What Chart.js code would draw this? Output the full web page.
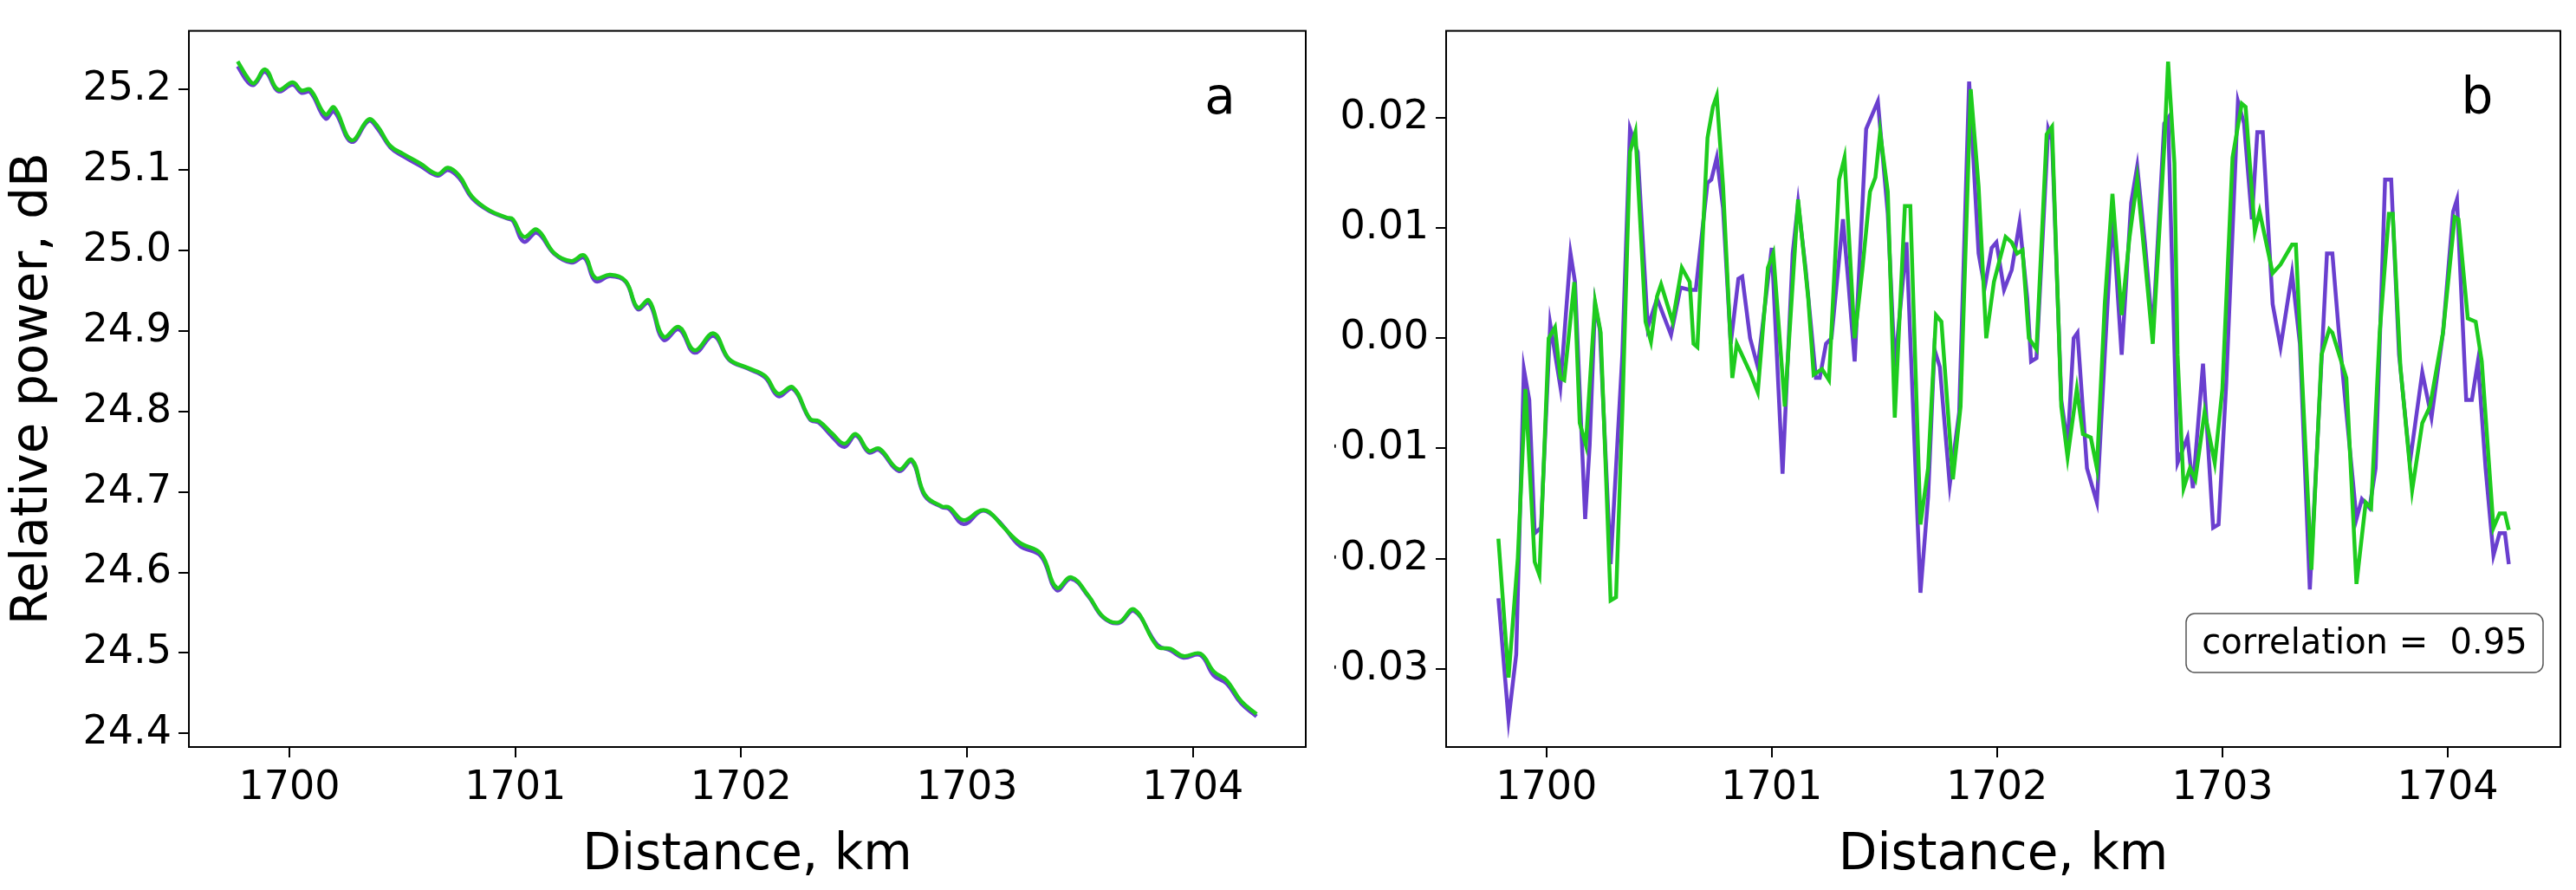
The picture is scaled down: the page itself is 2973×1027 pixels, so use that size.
<!DOCTYPE html>
<html>
<head>
<meta charset="utf-8">
<script src="https://cdn.jsdelivr.net/npm/chart.js@4.4.1/dist/chart.umd.min.js"></script>
<style>
  body { margin: 0; background: #fff; width: 2973px; height: 1027px; overflow: hidden; }
  .panel { position: absolute; top: 0; height: 1027px; }
  #panelA { left: 0; width: 1540px; }
  #panelB { left: 1540px; width: 1433px; }
</style>
</head>
<body>
<div class="panel" id="panelA"><canvas id="chartA"></canvas></div>
<div class="panel" id="panelB"><canvas id="chartB"></canvas></div>
<script>
// panel a: relative power, dB
const aDist = [1699.771, 1699.817, 1699.844, 1699.893, 1699.950, 1700.015, 1700.053, 1700.092, 1700.160, 1700.198,
  1700.275, 1700.351, 1700.389, 1700.447, 1700.504, 1700.580, 1700.656, 1700.702, 1700.752, 1700.809,
  1700.885, 1700.962, 1700.989, 1701.038, 1701.096, 1701.172, 1701.248, 1701.305, 1701.355, 1701.420,
  1701.489, 1701.542, 1701.592, 1701.656, 1701.725, 1701.794, 1701.878, 1701.947, 1702.031, 1702.107,
  1702.164, 1702.229, 1702.305, 1702.344, 1702.405, 1702.458, 1702.508, 1702.565, 1702.611, 1702.698,
  1702.756, 1702.813, 1702.889, 1702.920, 1702.985, 1703.061, 1703.099, 1703.156, 1703.233, 1703.328,
  1703.397, 1703.462, 1703.538, 1703.603, 1703.672, 1703.740, 1703.843, 1703.901, 1703.958, 1704.034,
  1704.092, 1704.149, 1704.214, 1704.282];
const aGreen = [25.235, 25.214, 25.208, 25.225, 25.200, 25.209, 25.199, 25.200, 25.169, 25.178,
  25.137, 25.163, 25.155, 25.130, 25.120, 25.108, 25.095, 25.103, 25.093, 25.067,
  25.050, 25.041, 25.039, 25.017, 25.026, 24.997, 24.987, 24.994, 24.966, 24.970,
  24.962, 24.929, 24.938, 24.893, 24.905, 24.876, 24.897, 24.865, 24.854, 24.844,
  24.822, 24.830, 24.791, 24.788, 24.772, 24.760, 24.772, 24.751, 24.754, 24.728,
  24.740, 24.697, 24.682, 24.681, 24.665, 24.677, 24.675, 24.658, 24.637, 24.623,
  24.581, 24.594, 24.571, 24.545, 24.538, 24.554, 24.508, 24.505, 24.496, 24.499,
  24.477, 24.466, 24.440, 24.424];
const aPurple = [25.229, 25.209, 25.206, 25.222, 25.198, 25.206, 25.196, 25.197, 25.164, 25.173,
  25.135, 25.161, 25.152, 25.128, 25.117, 25.105, 25.093, 25.100, 25.090, 25.065,
  25.049, 25.040, 25.037, 25.011, 25.022, 24.996, 24.985, 24.991, 24.962, 24.968,
  24.961, 24.927, 24.935, 24.889, 24.902, 24.873, 24.894, 24.864, 24.853, 24.842,
  24.819, 24.828, 24.790, 24.786, 24.768, 24.756, 24.770, 24.749, 24.752, 24.726,
  24.738, 24.695, 24.681, 24.679, 24.660, 24.676, 24.674, 24.659, 24.633, 24.620,
  24.578, 24.592, 24.570, 24.544, 24.537, 24.552, 24.510, 24.503, 24.494, 24.497,
  24.472, 24.462, 24.437, 24.421];

// panel b: residuals
const bPurpleDist = [1699.787, 1699.832, 1699.866, 1699.900, 1699.924, 1699.948, 1699.976, 1700.017, 1700.062, 1700.107,
  1700.127, 1700.172, 1700.192, 1700.216, 1700.237, 1700.285, 1700.337, 1700.371, 1700.405, 1700.450,
  1700.491, 1700.553, 1700.595, 1700.636, 1700.663, 1700.715, 1700.732, 1700.756, 1700.784, 1700.818,
  1700.852, 1700.869, 1700.904, 1700.938, 1701.000, 1701.048, 1701.093, 1701.117, 1701.151, 1701.196,
  1701.213, 1701.241, 1701.265, 1701.316, 1701.340, 1701.368, 1701.419, 1701.471, 1701.515, 1701.546,
  1701.598, 1701.660, 1701.694, 1701.722, 1701.746, 1701.790, 1701.832, 1701.876, 1701.918, 1701.945,
  1701.976, 1701.997, 1702.031, 1702.065, 1702.100, 1702.134, 1702.151, 1702.175, 1702.227, 1702.244,
  1702.285, 1702.313, 1702.340, 1702.357, 1702.399, 1702.443, 1702.478, 1702.512, 1702.553, 1702.595,
  1702.622, 1702.656, 1702.691, 1702.742, 1702.759, 1702.801, 1702.845, 1702.869, 1702.914, 1702.959,
  1702.983, 1703.017, 1703.069, 1703.096, 1703.131, 1703.155, 1703.179, 1703.223, 1703.258, 1703.309,
  1703.344, 1703.388, 1703.412, 1703.464, 1703.488, 1703.515, 1703.550, 1703.595, 1703.619, 1703.653,
  1703.680, 1703.722, 1703.749, 1703.784, 1703.832, 1703.887, 1703.928, 1703.979, 1704.024, 1704.041,
  1704.082, 1704.107, 1704.134, 1704.168, 1704.203, 1704.230, 1704.254, 1704.271];
const bPurple = [-0.0236, -0.0346, -0.0287, -0.0028, -0.0056, -0.0177, -0.0172, 0.0013, -0.0044, 0.0077,
  0.0051, -0.0164, -0.0097, 0.0031, 0.0008, -0.0205, -0.0015, 0.0190, 0.0169, 0.0010,
  0.0036, 0.0003, 0.0046, 0.0044, 0.0044, 0.0141, 0.0144, 0.0164, 0.0118, -0.0005,
  0.0054, 0.0056, 0.0000, -0.0026, 0.0082, -0.0123, 0.0077, 0.0123, 0.0062, -0.0036,
  -0.0036, -0.0005, 0.0000, 0.0108, 0.0051, -0.0021, 0.0190, 0.0215, 0.0113, -0.0026,
  0.0087, -0.0231, -0.0144, -0.0010, -0.0026, -0.0133, -0.0067, 0.0233, 0.0077, 0.0046,
  0.0082, 0.0087, 0.0044, 0.0062, 0.0105, 0.0036, -0.0021, -0.0018, 0.0190, 0.0180,
  -0.0056, -0.0097, 0.0000, 0.0005, -0.0118, -0.0149, -0.0015, 0.0113, -0.0015, 0.0123,
  0.0156, 0.0087, 0.0005, 0.0195, 0.0200, -0.0113, -0.0090, -0.0136, -0.0023, -0.0172,
  -0.0169, -0.0041, 0.0215, 0.0195, 0.0108, 0.0187, 0.0187, 0.0031, -0.0008, 0.0059,
  -0.0005, -0.0228, -0.0133, 0.0077, 0.0077, 0.0010, -0.0067, -0.0164, -0.0146, -0.0154,
  -0.0118, 0.0144, 0.0144, -0.0015, -0.0113, -0.0031, -0.0072, 0.0005, 0.0115, 0.0126,
  -0.0056, -0.0056, -0.0021, -0.0118, -0.0197, -0.0177, -0.0177, -0.0205];
const bGreenDist = [1699.787, 1699.832, 1699.873, 1699.907, 1699.948, 1699.969, 1700.010, 1700.038, 1700.062, 1700.079,
  1700.124, 1700.148, 1700.175, 1700.216, 1700.241, 1700.285, 1700.309, 1700.337, 1700.371, 1700.395,
  1700.440, 1700.464, 1700.491, 1700.509, 1700.560, 1700.601, 1700.636, 1700.653, 1700.670, 1700.715,
  1700.739, 1700.756, 1700.784, 1700.825, 1700.845, 1700.904, 1700.938, 1700.983, 1701.007, 1701.058,
  1701.117, 1701.162, 1701.186, 1701.223, 1701.254, 1701.299, 1701.323, 1701.368, 1701.402, 1701.436,
  1701.460, 1701.481, 1701.515, 1701.546, 1701.591, 1701.615, 1701.660, 1701.694, 1701.729, 1701.753,
  1701.804, 1701.838, 1701.883, 1701.918, 1701.952, 1701.986, 1702.038, 1702.065, 1702.089, 1702.113,
  1702.141, 1702.175, 1702.220, 1702.244, 1702.285, 1702.313, 1702.354, 1702.381, 1702.416, 1702.443,
  1702.478, 1702.512, 1702.553, 1702.588, 1702.622, 1702.656, 1702.691, 1702.742, 1702.759, 1702.787,
  1702.801, 1702.828, 1702.856, 1702.880, 1702.921, 1702.966, 1703.000, 1703.045, 1703.086, 1703.103,
  1703.144, 1703.165, 1703.223, 1703.258, 1703.309, 1703.326, 1703.361, 1703.395, 1703.440, 1703.474,
  1703.488, 1703.550, 1703.595, 1703.636, 1703.660, 1703.698, 1703.739, 1703.756, 1703.790, 1703.842,
  1703.887, 1703.921, 1703.979, 1704.031, 1704.048, 1704.089, 1704.124, 1704.151, 1704.203, 1704.230,
  1704.254, 1704.271];
const bGreen = [-0.0182, -0.0308, -0.0200, -0.0046, -0.0203, -0.0215, 0.0000, 0.0010, -0.0036, -0.0038,
  0.0051, -0.0077, -0.0097, 0.0033, 0.0005, -0.0238, -0.0235, -0.0067, 0.0169, 0.0187,
  0.0015, -0.0003, 0.0038, 0.0049, 0.0015, 0.0064, 0.0051, -0.0005, -0.0008, 0.0182,
  0.0210, 0.0220, 0.0138, -0.0036, -0.0005, -0.0031, -0.0049, 0.0064, 0.0077, -0.0062,
  0.0126, 0.0036, -0.0033, -0.0028, -0.0038, 0.0144, 0.0164, 0.0000, 0.0062, 0.0133,
  0.0146, 0.0187, 0.0133, -0.0072, 0.0120, 0.0120, -0.0169, -0.0118, 0.0021, 0.0015,
  -0.0128, -0.0062, 0.0226, 0.0138, 0.0000, 0.0051, 0.0092, 0.0087, 0.0077, 0.0080,
  0.0000, -0.0010, 0.0185, 0.0192, -0.0062, -0.0108, -0.0046, -0.0087, -0.0090, -0.0118,
  0.0031, 0.0131, 0.0021, 0.0092, 0.0144, 0.0072, -0.0005, 0.0174, 0.0251, 0.0159,
  -0.0015, -0.0136, -0.0118, -0.0128, -0.0067, -0.0113, -0.0046, 0.0164, 0.0213, 0.0210,
  0.0097, 0.0115, 0.0059, 0.0067, 0.0085, 0.0085, -0.0067, -0.0210, -0.0015, 0.0008,
  0.0005, -0.0036, -0.0223, -0.0149, -0.0154, 0.0005, 0.0113, 0.0113, -0.0026, -0.0138,
  -0.0077, -0.0062, 0.0005, 0.0110, 0.0108, 0.0018, 0.0015, -0.0021, -0.0172, -0.0159,
  -0.0159, -0.0174];

const purple = '#6a3fcf';
const green = '#1ecc1e';
const FONT = 'DejaVu Sans';

const pts = (xs, ys) => xs.map((x, i) => ({ x: x, y: ys[i] }));

const frame = {
  id: 'frame',
  afterDraw(chart, args, opts) {
    const { ctx, chartArea: a } = chart;
    ctx.save();
    ctx.strokeStyle = '#000';
    ctx.lineWidth = 2;
    ctx.strokeRect(a.left, a.top, a.right - a.left, a.bottom - a.top);
    ctx.fillStyle = '#000';
    ctx.font = '58px "' + FONT + '"';
    ctx.textAlign = 'center';
    ctx.textBaseline = 'middle';
    ctx.fillText(opts.letter, a.left + opts.letterX, a.top + 80);
    if (opts.note) {
      ctx.font = '40px "' + FONT + '"';
      const w = 412, h = 68;
      const x = a.right - 20 - w, y = a.bottom - 86 - h;
      ctx.beginPath();
      ctx.roundRect(x, y, w, h, 10);
      ctx.fillStyle = '#fff';
      ctx.fill();
      ctx.lineWidth = 1.5;
      ctx.strokeStyle = '#555';
      ctx.stroke();
      ctx.fillStyle = '#000';
      ctx.fillText(opts.note, x + w / 2, y + h / 2 + 2);
    }
    ctx.restore();
  }
};

function makeChart(id, datasets, yMin, yMax, yStep, yFmt, yWidth, yTitle, letter, letterX, note, rightPad, tension) {
  return new Chart(document.getElementById(id), {
    type: 'line',
    data: { datasets: datasets },
    plugins: [frame],
    options: {
      responsive: true,
      maintainAspectRatio: false,
      animation: false,
      layout: { padding: { top: 15, right: rightPad, left: 0, bottom: 0 } },
      elements: { point: { radius: 0 }, line: { borderWidth: 4.5, tension: tension } },
      plugins: { legend: { display: false }, tooltip: { enabled: false }, frame: { letter: letter, letterX: letterX, note: note } },
      scales: {
        x: {
          type: 'linear', min: 1699.555, max: 1704.5,
          afterBuildTicks: s => { s.ticks = [1700, 1701, 1702, 1703, 1704].map(v => ({ value: v })); },
          afterFit: s => { s.height = 165; },
          grid: { display: true, drawOnChartArea: false, drawTicks: true, tickLength: 12, color: '#000', lineWidth: 2 },
          border: { display: false },
          ticks: { color: '#000', font: { family: FONT, size: 46 }, padding: 8, maxRotation: 0, callback: v => String(v) },
          title: { display: true, text: 'Distance, km', color: '#000', font: { family: FONT, size: 58 }, padding: { top: 14 } }
        },
        y: {
          min: yMin, max: yMax,
          afterBuildTicks: s => {
            const t = [];
            for (let v = Math.ceil(yMin / yStep - 1e-6); v * yStep <= yMax + 1e-9; v++) t.push({ value: +(v * yStep).toFixed(4) });
            s.ticks = t;
          },
          afterFit: s => { s.width = yWidth; },
          grid: { display: true, drawOnChartArea: false, drawTicks: true, tickLength: 12, color: '#000', lineWidth: 2 },
          border: { display: false },
          ticks: { color: '#000', font: { family: FONT, size: 46 }, padding: 8, callback: yFmt },
          title: { display: !!yTitle, text: yTitle || '', color: '#000', font: { family: FONT, size: 58 }, padding: { bottom: 4 } }
        }
      }
    }
  });
}

makeChart('chartA', [
  { data: pts(aDist, aGreen), borderColor: green },
  { data: pts(aDist, aPurple), borderColor: purple }
], 24.383, 25.273, 0.1, v => v.toFixed(1), 218, 'Relative power, dB', 'a', 1190, null, 33, 0.4);

makeChart('chartB', [
  { data: pts(bGreenDist, bGreen), borderColor: green },
  { data: pts(bPurpleDist, bPurple), borderColor: purple }
], -0.0371, 0.0279, 0.01, v => {
  const s = Math.abs(v) < 1e-9 ? '0.00' : v.toFixed(2);
  return s.replace('-', '\u2212');
}, 129, null, 'b', 1190, 'correlation =  0.95', 18, 0);
</script>
</body>
</html>
